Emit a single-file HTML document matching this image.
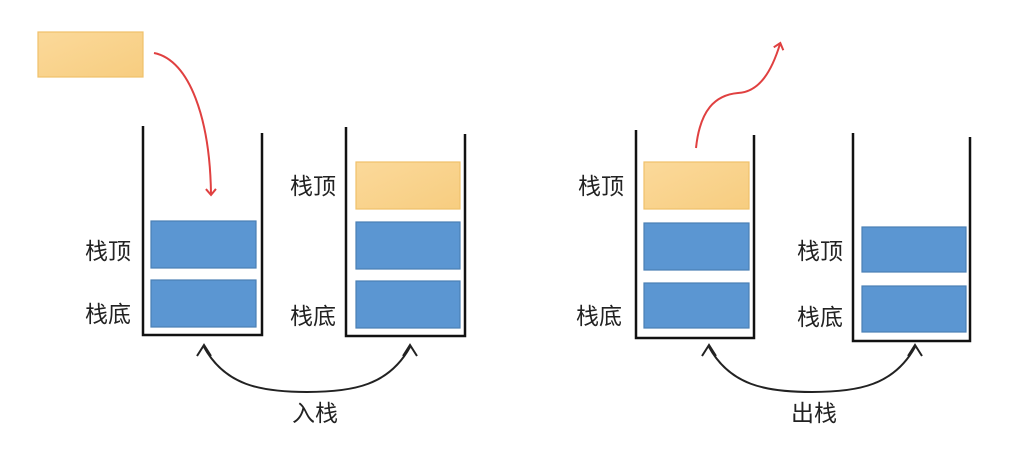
<!DOCTYPE html>
<html><head><meta charset="utf-8"><style>
html,body{margin:0;padding:0;background:#fff;}
svg{display:block}
text{font-family:"Liberation Sans","Noto Sans CJK SC",sans-serif;font-size:23px;fill:#222;}
</style></head><body>
<svg width="1025" height="450" viewBox="0 0 1025 450">
<defs>
<linearGradient id="og" x1="0" y1="0" x2="1" y2="1"><stop offset="0" stop-color="#fbd99a"/><stop offset="1" stop-color="#f7cd80"/></linearGradient>
<marker id="ar" markerWidth="12" markerHeight="12" refX="6" refY="6" orient="auto" markerUnits="userSpaceOnUse"><path d="M1,1 L7,6 L1,11" fill="none" stroke="#e04040" stroke-width="2"/></marker>
</defs>
<g stroke-width="1.2">
<rect x="38" y="32" width="105" height="45" fill="url(#og)" stroke="#efc06a"/>
<polyline points="143,126 143,335 262,335 262,133" fill="none" stroke="#111" stroke-width="2.5"/>
<rect x="151" y="221" width="105" height="47" fill="#5b96d2" stroke="#4a7fb5"/>
<rect x="151" y="280" width="105" height="47" fill="#5b96d2" stroke="#4a7fb5"/>
<polyline points="346,127 346,336 465,336 465,134" fill="none" stroke="#111" stroke-width="2.5"/>
<rect x="356" y="162" width="104" height="47" fill="url(#og)" stroke="#efc06a"/>
<rect x="356" y="222" width="104" height="47" fill="#5b96d2" stroke="#4a7fb5"/>
<rect x="356" y="281" width="104" height="47" fill="#5b96d2" stroke="#4a7fb5"/>
<polyline points="636,130 636,338 754,338 754,135" fill="none" stroke="#111" stroke-width="2.5"/>
<rect x="644" y="162" width="105" height="47" fill="url(#og)" stroke="#efc06a"/>
<rect x="644" y="223" width="105" height="47" fill="#5b96d2" stroke="#4a7fb5"/>
<rect x="644" y="283" width="105" height="45" fill="#5b96d2" stroke="#4a7fb5"/>
<polyline points="853,133 853,341 970,341 970,137" fill="none" stroke="#111" stroke-width="2.5"/>
<rect x="862" y="227" width="104" height="45" fill="#5b96d2" stroke="#4a7fb5"/>
<rect x="862" y="286" width="104" height="46" fill="#5b96d2" stroke="#4a7fb5"/>
</g>
<path d="M154,53 C190,60 210,120 211,194" fill="none" stroke="#e04040" stroke-width="2" marker-end="url(#ar)"/>
<path d="M696,148 C700,110 715,95 738,93 C760,92 772,70 780,44" fill="none" stroke="#e04040" stroke-width="2" marker-end="url(#ar)"/>
<g fill="none" stroke="#222" stroke-width="2">
<path d="M204,347 C225,385 260,392 307,392 C354,392 389,385 410,347"/>
<path d="M197,356 L204,345 L211,356"/>
<path d="M403,356 L410,345 L417,356"/>
<path d="M709,347 C730,385 765,392 812,392 C859,392 894,385 915,347"/>
<path d="M702,356 L709,345 L716,356"/>
<path d="M908,356 L915,345 L922,356"/>
</g>
<text x="85" y="259">栈顶</text>
<text x="85" y="322">栈底</text>
<text x="290" y="194">栈顶</text>
<text x="290" y="324">栈底</text>
<text x="578" y="194">栈顶</text>
<text x="576" y="324">栈底</text>
<text x="797" y="259">栈顶</text>
<text x="797" y="325">栈底</text>
<text x="292" y="421">入栈</text>
<text x="791" y="421">出栈</text>
</svg>
</body></html>
